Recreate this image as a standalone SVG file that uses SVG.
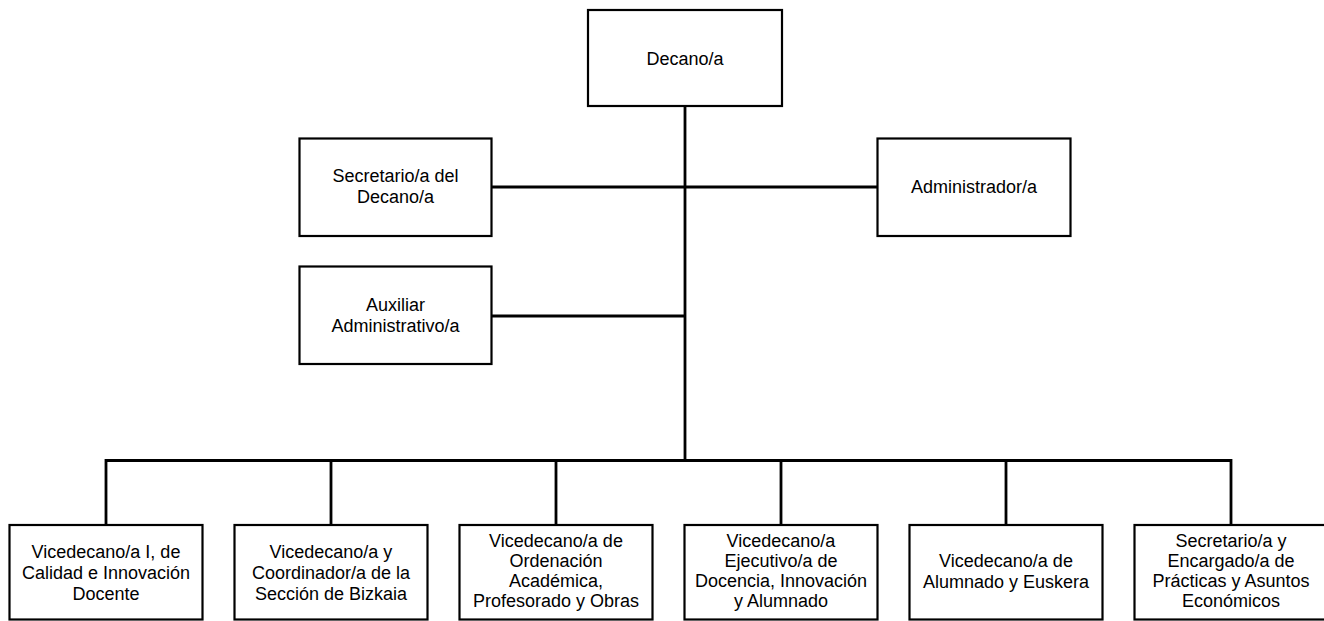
<svg xmlns="http://www.w3.org/2000/svg" width="1324" height="621" viewBox="0 0 1324 621">
<style>
.box{fill:#fff;stroke:#000;stroke-width:2.2}
.con{fill:none;stroke:#000;stroke-width:2.8}
text{font-family:"Liberation Sans",Arial,sans-serif;font-size:18px;fill:#000;text-anchor:middle}
</style>
<rect width="1324" height="621" fill="#fff"/>
<g id="connectors">
<path class="con" d="M685 106V460.5M491.5 187H877.5M491.5 316H685M106 460.5H1231M106 459V525M331 459V525M556 459V525M781 459V525M1006 459V525M1231 459V525"/>
</g>
<g id="decano"><rect class="box" x="588" y="10" width="194" height="96"/><text x="685" y="64.5">Decano/a</text></g>
<g id="secretario-decano"><rect class="box" x="299.5" y="138.5" width="192" height="97.5"/><text x="395.5" y="182">Secretario/a del</text><text x="395.5" y="203">Decano/a</text></g>
<g id="administrador"><rect class="box" x="877.5" y="138.5" width="193" height="97.5"/><text x="974" y="193">Administrador/a</text></g>
<g id="auxiliar"><rect class="box" x="299.5" y="266.5" width="192" height="97.5"/><text x="395.5" y="310.5">Auxiliar</text><text x="395.5" y="331.5">Administrativo/a</text></g>
<g id="vice1"><rect class="box" x="9.5" y="525" width="193" height="94.5"/><text x="106" y="557.5">Vicedecano/a I, de</text><text x="106" y="578.5">Calidad e Innovación</text><text x="106" y="599.5">Docente</text></g>
<g id="vice2"><rect class="box" x="234.5" y="525" width="193" height="94.5"/><text x="331" y="557.5">Vicedecano/a y</text><text x="331" y="578.5">Coordinador/a de la</text><text x="331" y="599.5">Sección de Bizkaia</text></g>
<g id="vice3"><rect class="box" x="459.5" y="525" width="193" height="94.5"/><text x="556" y="546.5">Vicedecano/a de</text><text x="556" y="566.8">Ordenación</text><text x="556" y="587">Académica,</text><text x="556" y="607.3">Profesorado y Obras</text></g>
<g id="vice4"><rect class="box" x="684.5" y="525" width="193" height="94.5"/><text x="781" y="546.5">Vicedecano/a</text><text x="781" y="566.8">Ejecutivo/a de</text><text x="781" y="587">Docencia, Innovación</text><text x="781" y="607.3">y Alumnado</text></g>
<g id="vice5"><rect class="box" x="909.5" y="525" width="193" height="94.5"/><text x="1006" y="567">Vicedecano/a de</text><text x="1006" y="587.5">Alumnado y Euskera</text></g>
<g id="secretario-practicas"><rect class="box" x="1134.5" y="525" width="193" height="94.5"/><text x="1231" y="546.5">Secretario/a y</text><text x="1231" y="566.8">Encargado/a de</text><text x="1231" y="587">Prácticas y Asuntos</text><text x="1231" y="607.3">Económicos</text></g>
</svg>
